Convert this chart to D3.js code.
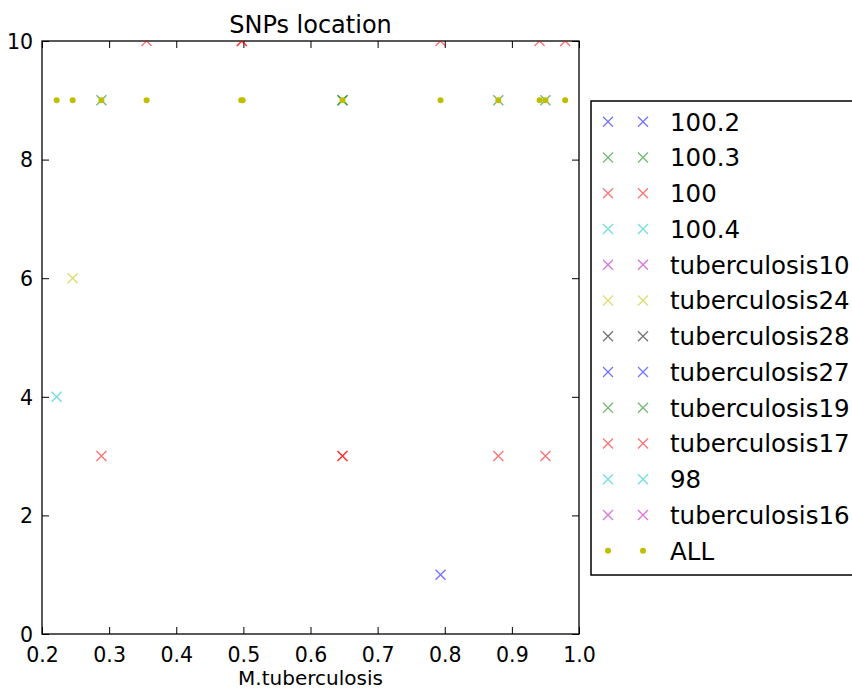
<!DOCTYPE html>
<html>
<head>
<meta charset="utf-8">
<script src="https://cdn.jsdelivr.net/npm/d3@7/dist/d3.min.js"></script>
<style>
  html, body { margin: 0; padding: 0; background: #fff; }
  svg { display: block; font-family: "DejaVu Sans", sans-serif; }
</style>
</head>
<body>
<svg id="chart" width="852" height="691"></svg>
<script>
// Series names in legend order
const seriesNames = ["100.2", "100.3", "100", "100.4", "tuberculosis10", "tuberculosis24",
  "tuberculosis28", "tuberculosis27", "tuberculosis19", "tuberculosis17", "98", "tuberculosis16"];
const seriesColors = ["#0000ff", "#008000", "#ff0000", "#00bfbf", "#bf00bf", "#bfbf00",
  "#000000", "#0000ff", "#008000", "#ff0000", "#00bfbf", "#bf00bf"];

// SNP positions (x) and counts (y) for each series
const s100_2 = [[0.7937, 1]];
const s100_3 = [[0.2885, 9], [0.6477, 9], [0.8798, 9], [0.9500, 9]];
const s100 = [[0.3558, 10], [0.4978, 10], [0.7937, 10], [0.9413, 10], [0.9794, 10],
  [0.2885, 3], [0.6477, 3], [0.8798, 3], [0.9500, 3]];
const s100_4 = [[0.2218, 4]];
const sTub10 = [];
const sTub24 = [[0.2457, 6]];
const sTub28 = [];
const sTub27 = [];
const sTub19 = [[0.6477, 9]];
const sTub17 = [[0.4978, 10], [0.6477, 3]];
const s98 = [];
const sTub16 = [];
const seriesValues = [s100_2, s100_3, s100, s100_4, sTub10, sTub24, sTub28, sTub27, sTub19, sTub17, s98, sTub16];

// "ALL" positions, all at y = 9
const allX = [0.2218, 0.2457, 0.2885, 0.3558, 0.4968, 0.4990, 0.6477, 0.7937, 0.8798, 0.9413, 0.9500, 0.9794];
const allY = 9;
const allColor = "#bfbf00";

const xTicks = [0.2, 0.3, 0.4, 0.5, 0.6, 0.7, 0.8, 0.9, 1.0];
const yTicks = [0, 2, 4, 6, 8, 10];

const svg = d3.select("#chart");
const plotLeft = 42, plotRight = 579, plotTop = 41, plotBottom = 634;

const x = d3.scaleLinear().domain([0.2, 1.0]).range([plotLeft, plotRight]);
const y = d3.scaleLinear().domain([0, 10]).range([plotBottom, plotTop]);

svg.append("defs").append("clipPath").attr("id", "plotClip")
  .append("rect").attr("x", plotLeft).attr("y", plotTop)
  .attr("width", plotRight - plotLeft).attr("height", plotBottom - plotTop);

// Title
svg.append("text").attr("x", (plotLeft + plotRight) / 2).attr("y", 33)
  .attr("text-anchor", "middle").attr("font-size", 24).attr("fill", "#000").text("SNPs location");

// Axes with inward ticks on all four sides
const tickLen = 7;
const axB = svg.append("g").attr("transform", `translate(0,${plotBottom})`)
  .call(d3.axisBottom(x).tickValues(xTicks).tickSizeInner(-tickLen).tickSizeOuter(0).tickPadding(10)
    .tickFormat(d3.format(".1f")));
const axT = svg.append("g").attr("transform", `translate(0,${plotTop})`)
  .call(d3.axisTop(x).tickValues(xTicks).tickSizeInner(-tickLen).tickSizeOuter(0).tickFormat(""));
const axL = svg.append("g").attr("transform", `translate(${plotLeft},0)`)
  .call(d3.axisLeft(y).tickValues(yTicks).tickSizeInner(-tickLen).tickSizeOuter(0).tickPadding(9));
const axR = svg.append("g").attr("transform", `translate(${plotRight},0)`)
  .call(d3.axisRight(y).tickValues(yTicks).tickSizeInner(-tickLen).tickSizeOuter(0).tickFormat(""));
[axB, axT, axL, axR].forEach(g => {
  g.select(".domain").remove();
  g.selectAll(".tick line").attr("stroke", "#000").attr("stroke-width", 1);
  g.selectAll(".tick text").attr("font-size", 20.5).attr("fill", "#000")
    .attr("font-family", "DejaVu Sans, sans-serif");
});
axB.selectAll(".tick text").attr("dy", "0.9em");
axL.selectAll(".tick text").attr("dy", "0.36em");

// Spines
svg.append("rect").attr("x", plotLeft).attr("y", plotTop)
  .attr("width", plotRight - plotLeft).attr("height", plotBottom - plotTop)
  .attr("fill", "none").attr("stroke", "#000").attr("stroke-width", 1.3);

// X axis label
svg.append("text").attr("x", (plotLeft + plotRight) / 2).attr("y", 685)
  .attr("text-anchor", "middle").attr("font-size", 20).attr("fill", "#000").text("M.tuberculosis");

// Cross marker path centred on 0,0
const xs = 5;
const crossPath = `M${-xs},${-xs}L${xs},${xs}M${-xs},${xs}L${xs},${-xs}`;

const plot = svg.append("g").attr("clip-path", "url(#plotClip)");
seriesValues.forEach((vals, i) => {
  plot.append("g").selectAll("path").data(vals).join("path")
    .attr("d", crossPath)
    .attr("transform", d => `translate(${x(d[0])},${y(d[1])})`)
    .attr("fill", "none").attr("stroke", seriesColors[i]).attr("stroke-opacity", 0.55).attr("stroke-width", 1.4);
});
plot.append("g").selectAll("circle").data(allX).join("circle")
  .attr("cx", d => x(d)).attr("cy", y(allY)).attr("r", 3).attr("fill", allColor);

// Legend
const lg = svg.append("g");
lg.append("rect").attr("x", 591).attr("y", 101).attr("width", 300).attr("height", 474)
  .attr("fill", "#fff").attr("stroke", "#000").attr("stroke-width", 1.5);
const rowY = i => 121.7 + i * 35.75;
const markX = [608, 643];
seriesNames.forEach((name, i) => {
  markX.forEach(mx => {
    lg.append("path").attr("d", crossPath).attr("transform", `translate(${mx},${rowY(i)})`)
      .attr("fill", "none").attr("stroke", seriesColors[i]).attr("stroke-opacity", 0.55).attr("stroke-width", 1.3);
  });
  lg.append("text").attr("x", 670).attr("y", rowY(i)).attr("dy", "0.36em")
    .attr("font-size", 24.5).attr("fill", "#000").text(name);
});
const allRow = seriesNames.length;
markX.forEach(mx => {
  lg.append("circle").attr("cx", mx).attr("cy", rowY(allRow)).attr("r", 3).attr("fill", allColor);
});
lg.append("text").attr("x", 670).attr("y", rowY(allRow)).attr("dy", "0.36em")
  .attr("font-size", 24.5).attr("fill", "#000").text("ALL");
</script>
</body>
</html>
